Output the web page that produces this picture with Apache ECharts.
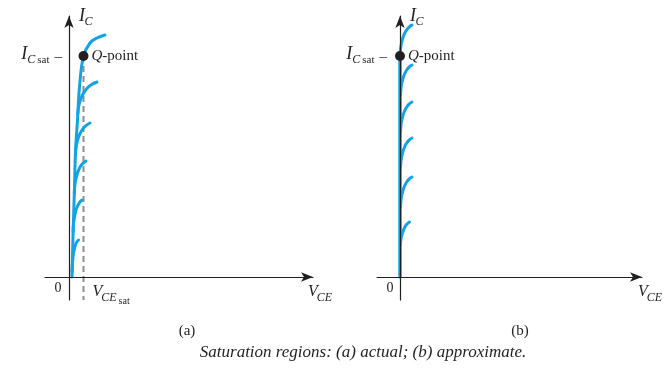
<!DOCTYPE html>
<html><head><meta charset="utf-8">
<script src="https://cdn.jsdelivr.net/npm/echarts@6/dist/echarts.min.js"></script>
<style>html,body{margin:0;padding:0;background:#fff}#c{width:666px;height:370px}</style>
</head><body><div id="c"></div>
<script>
// ---- Panel (a): actual saturation region (arbitrary units) ----
const envelopeA = [[3,0],[4,40],[5.5,90],[6.5,125],[8.5,157],[10.5,190],[14.5,221],[21,234],[28,239],[36,242]];
const branchA2 = [[8.8,163],[10,172],[13,181],[17.5,188],[22.6,192.4],[28,195]];
const branchA3 = [[6.4,122],[7.3,131],[9.6,140],[13,147],[16.9,151.4],[21,154]];
const branchA4 = [[5.3,84],[6,93],[7.9,102],[10.6,109],[13.7,113.4],[17,116]];
const branchA5 = [[4.1,45],[4.6,54],[6.1,63],[8.1,70],[10.5,74.4],[13,77]];
const branchA6 = [[3.1,5],[3.5,14],[4.4,23],[5.8,30],[7.4,34.4],[9.5,37]];
const qPointA = [14.5, 221];
const vceSatLineA = [[14.5,221],[14.5,-23]];

// ---- Panel (b): approximate saturation region ----
const verticalB = [[0,0],[0,221]];
const branchB1 = [[0,221],[0.8,230],[2.7,238.8],[5.6,245.4],[8.8,249.6],[12,252]];
const branchB2 = [[0.5,182],[1.2,190.4],[3,198.8],[5.7,205.4],[8.8,209.6],[12,212]];
const branchB3 = [[0.5,145],[1.2,153.4],[3,161.8],[5.7,168.4],[8.8,172.6],[12,175]];
const branchB4 = [[0.5,109],[1.2,117.4],[3,125.8],[5.7,132.4],[8.8,136.6],[12,139]];
const branchB5 = [[0.5,70],[1.2,78.4],[3,86.8],[5.7,93.4],[8.8,97.6],[12,100]];
const branchB6 = [[0.5,32],[1,38],[2.5,44],[4.6,49.5],[7,53],[9.5,55]];
const qPointB = [0, 221];

const BLUE = '#14a3e2';
const INK = '#231f20';
const FONT = '"Liberation Serif", "Times New Roman", serif';

const chart = echarts.init(document.getElementById('c'), null, {renderer:'canvas'});

function axisX(grid, min, max){
  return {gridIndex:grid, type:'value', min:min, max:max, z:5,
    axisLine:{onZero:true, symbol:['none','arrow'], symbolSize:[7,12], lineStyle:{color:INK, width:1.2}},
    axisTick:{show:false}, axisLabel:{show:false}, splitLine:{show:false}};
}
function axisY(grid, min, max){
  return {gridIndex:grid, type:'value', min:min, max:max, z:5,
    axisLine:{onZero:true, symbol:['none','arrow'], symbolSize:[7,12], lineStyle:{color:INK, width:1.2}},
    axisTick:{show:false}, axisLabel:{show:false}, splitLine:{show:false}};
}
function curve(data, idx, width){
  return {type:'line', xAxisIndex:idx, yAxisIndex:idx, data:data, smooth:0.4, showSymbol:false, symbol:'none',
    silent:true, z:2, lineStyle:{color:BLUE, width:width||3, cap:'round'}};
}

chart.setOption({
  backgroundColor:'#fff',
  animation:false,
  grid:[
    {left:45, top:16, width:268, height:284},
    {left:377, top:16, width:265, height:284}
  ],
  xAxis:[axisX(0,-24,244), axisX(1,-23,242)],
  yAxis:[axisY(0,-23,261), axisY(1,-23,261)],
  series:[
    {type:'line', xAxisIndex:0, yAxisIndex:0, data:vceSatLineA, showSymbol:false, symbol:'none', z:1,
      lineStyle:{color:'#8e8e8e', width:2, type:[6,4]}},
    curve(envelopeA,0), curve(branchA2,0), curve(branchA3,0), curve(branchA4,0), curve(branchA5,0), curve(branchA6,0),
    {type:'scatter', xAxisIndex:0, yAxisIndex:0, data:[qPointA], symbolSize:10, z:6, itemStyle:{color:INK, opacity:1}},
    curve(verticalB,1,3.5), curve(branchB1,1), curve(branchB2,1), curve(branchB3,1), curve(branchB4,1), curve(branchB5,1), curve(branchB6,1),
    {type:'scatter', xAxisIndex:1, yAxisIndex:1, data:[qPointB], symbolSize:10, z:6, itemStyle:{color:INK, opacity:1}}
  ]
});

// ---- text labels, placed relative to the axes ----
const ctx = document.createElement('canvas').getContext('2d');
function fontStr(p){ return (p.it?'italic ':'') + p.size + 'px ' + FONT; }
function tw(p){ ctx.font = fontStr(p); return ctx.measureText(p.t).width; }
const els = [];
function run(x, anchor, parts){
  let total = 0;
  parts.forEach(p => { total += (p.gap||0) + tw(p); });
  let cx = anchor==='left' ? x : anchor==='right' ? x - total : x - total/2;
  parts.forEach(p => {
    cx += (p.gap||0);
    const y = p.base - 0.34*p.size;
    els.push({type:'text', x:cx, y:y, silent:true, z:10,
      style:{text:p.t, font:fontStr(p), fill:INK, align:'left', verticalAlign:'middle', textAlign:'left', textVerticalAlign:'middle'}});
    cx += tw(p);
  });
}
const oA = chart.convertToPixel({gridIndex:0}, [0,0]);
const oB = chart.convertToPixel({gridIndex:1}, [0,0]);
const qA = chart.convertToPixel({gridIndex:0}, qPointA);
const qB = chart.convertToPixel({gridIndex:1}, qPointB);
const endA = chart.convertToPixel({gridIndex:0}, [244,0]);
const endB = chart.convertToPixel({gridIndex:1}, [242,0]);

function icLabel(o){ run(o[0]+10, 'left', [{t:'I',size:18,it:1,base:o[1]-255},{t:'C',size:12,it:1,base:o[1]-251,gap:-0.5}]); }
function icsat(xr, q){ run(xr, 'right', [
  {t:'I',size:18,it:1,base:q[1]+4},{t:'C',size:12,it:1,base:q[1]+8,gap:0},
  {t:'sat',size:11,base:q[1]+8,gap:2},{t:'\u2013',size:15,base:q[1]+6,gap:5}]); }
function qLabel(q){ run(q[0]+8, 'left', [{t:'Q',size:15,it:1,base:q[1]+5},{t:'-point',size:15,base:q[1]+5}]); }
function vce(x, o, sat){
  const parts = [{t:'V',size:16,it:1,base:o[1]+20},{t:'CE',size:12,it:1,base:o[1]+25,gap:-1}];
  if (sat) parts.push({t:'sat',size:10,base:o[1]+28,gap:2});
  run(x, 'left', parts);
}

// panel (a)
icLabel(oA);
icsat(oA[0]-7, qA);
qLabel(qA);
run(oA[0]-11, 'center', [{t:'0',size:14,base:oA[1]+16}]);
vce(qA[0]+9, oA, true);
vce(endA[0]-5, oA, false);
run(187, 'center', [{t:'(a)',size:15,base:336}]);
// panel (b)
icLabel(oB);
icsat(oB[0]-13, qB);
qLabel(qB);
run(oB[0]-10, 'center', [{t:'0',size:14,base:oB[1]+16}]);
vce(endB[0]-4, oB, false);
run(520, 'center', [{t:'(b)',size:15,base:336}]);
// caption
run(363, 'center', [{t:'Saturation regions: (a) actual; (b) approximate.',size:17,it:1,base:358}]);

chart.setOption({graphic:{elements:els}});
</script>
</body></html>
